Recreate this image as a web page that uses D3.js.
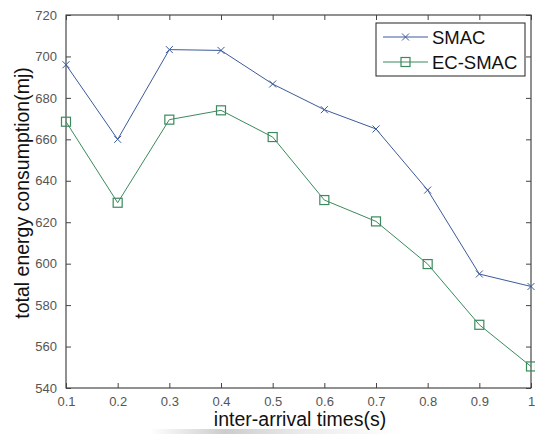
<!DOCTYPE html>
<html>
<head>
<meta charset="utf-8">
<script src="https://cdn.jsdelivr.net/npm/d3@7"></script>
<style>
  body { margin: 0; background: #fff; }
  svg { display: block; font-family: Arial, "Liberation Sans", sans-serif; }
</style>
</head>
<body>
<svg id="chart" width="535" height="434"></svg>
<script>
// inter-arrival times (s)
const times = [0.1, 0.2, 0.3, 0.4, 0.5, 0.6, 0.7, 0.8, 0.9, 1.0];
const smac = [696, 660, 703.3, 702.9, 686.7, 674.3, 665, 635.5, 595, 589];
const ecSmac = [668.5, 629.4, 669.5, 674, 661.1, 630.7, 620.4, 599.8, 570.5, 550.4];
const xTicks = [0.1, 0.2, 0.3, 0.4, 0.5, 0.6, 0.7, 0.8, 0.9, 1];
const yTicks = [540, 560, 580, 600, 620, 640, 660, 680, 700, 720];

const margin = { top: 15, right: 4, bottom: 46, left: 66 };
const width = 535 - margin.left - margin.right;
const height = 434 - margin.top - margin.bottom;

const svg = d3.select("#chart");
const g = svg.append("g").attr("transform", `translate(${margin.left},${margin.top})`);

const x = d3.scaleLinear().domain([0.1, 1]).range([0, width]);
const y = d3.scaleLinear().domain([540, 720]).range([height, 0]);

// faint smudge under the x label like in the scan
const grad = svg.append("defs").append("linearGradient").attr("id", "smudge");
grad.append("stop").attr("offset", "0%").attr("stop-color", "#fff");
grad.append("stop").attr("offset", "30%").attr("stop-color", "#aaa");
grad.append("stop").attr("offset", "60%").attr("stop-color", "#ddd");
grad.append("stop").attr("offset", "100%").attr("stop-color", "#fff");
svg.append("rect").attr("x", 150).attr("y", 429).attr("width", 250).attr("height", 5)
  .attr("fill", "url(#smudge)").attr("opacity", 0.6);

// box
g.append("rect").attr("width", width).attr("height", height)
  .attr("fill", "none").attr("stroke", "#222").attr("stroke-width", 1);

// axes with inward ticks
const tickCol = "#444";
const xAxis = g.append("g").attr("transform", `translate(0,${height})`)
  .call(d3.axisBottom(x).tickValues(xTicks).tickSize(-5).tickPadding(10).tickFormat(d3.format("")));
const xTop = g.append("g")
  .call(d3.axisTop(x).tickValues(xTicks).tickSize(-5).tickFormat(""));
const yAxis = g.append("g")
  .call(d3.axisLeft(y).tickValues(yTicks).tickSize(-5).tickPadding(9));
const yRight = g.append("g").attr("transform", `translate(${width},0)`)
  .call(d3.axisRight(y).tickValues(yTicks).tickSize(-5).tickFormat(""));

[xAxis, xTop, yAxis, yRight].forEach(a => {
  a.select(".domain").remove();
  a.selectAll(".tick line").attr("stroke", tickCol);
  a.selectAll("text").attr("fill", "#555").style("font-size", "13px")
    .style("font-family", "Arial, 'Liberation Sans', sans-serif");
});
xAxis.selectAll("text").attr("dy", "0.6em");

// lines
const series = [
  { name: "SMAC", values: smac, color: "#3c5a9a", marker: "x" },
  { name: "EC-SMAC", values: ecSmac, color: "#3a8a5c", marker: "square" }
];

const line = d3.line().x(d => x(d[0])).y(d => y(d[1]));

function drawMarker(sel, type, color) {
  if (type === "x") {
    sel.append("path").attr("d", "M-3.5,-3.5L3.5,3.5M-3.5,3.5L3.5,-3.5")
      .attr("stroke", color).attr("stroke-width", 1).attr("fill", "none");
  } else {
    sel.append("rect").attr("x", -4.5).attr("y", -4.5).attr("width", 9).attr("height", 9)
      .attr("stroke", color).attr("stroke-width", 1.2).attr("fill", "none");
  }
}

series.forEach(s => {
  const pts = times.map((t, i) => [t, s.values[i]]);
  g.append("path").datum(pts).attr("d", line)
    .attr("fill", "none").attr("stroke", s.color).attr("stroke-width", 1);
  g.selectAll(null).data(pts).enter().append("g")
    .attr("transform", d => `translate(${x(d[0])},${y(d[1])})`)
    .each(function() { drawMarker(d3.select(this), s.marker, s.color); });
});

// legend
const lg = svg.append("g");
lg.append("rect").attr("x", 376).attr("y", 23).attr("width", 149).attr("height", 53)
  .attr("fill", "#fff").attr("stroke", "#222").attr("stroke-width", 1);
series.forEach((s, i) => {
  const ly = 37 + i * 25;
  lg.append("line").attr("x1", 383).attr("x2", 428).attr("y1", ly).attr("y2", ly)
    .attr("stroke", s.color).attr("stroke-width", 1);
  const m = lg.append("g").attr("transform", `translate(405.5,${ly})`);
  drawMarker(m, s.marker, s.color);
  lg.append("text").attr("x", 432).attr("y", ly + 7).text(s.name)
    .style("font-size", "18.5px").attr("fill", "#111");
});

// axis labels
svg.append("text").attr("x", 300).attr("y", 426).attr("text-anchor", "middle")
  .style("font-size", "19.5px").attr("fill", "#111").text("inter-arrival times(s)");
svg.append("text").attr("transform", "translate(29,193) rotate(-90)")
  .attr("text-anchor", "middle").style("font-size", "19.5px").attr("fill", "#111")
  .text("total energy consumption(mj)");
</script>
</body>
</html>
